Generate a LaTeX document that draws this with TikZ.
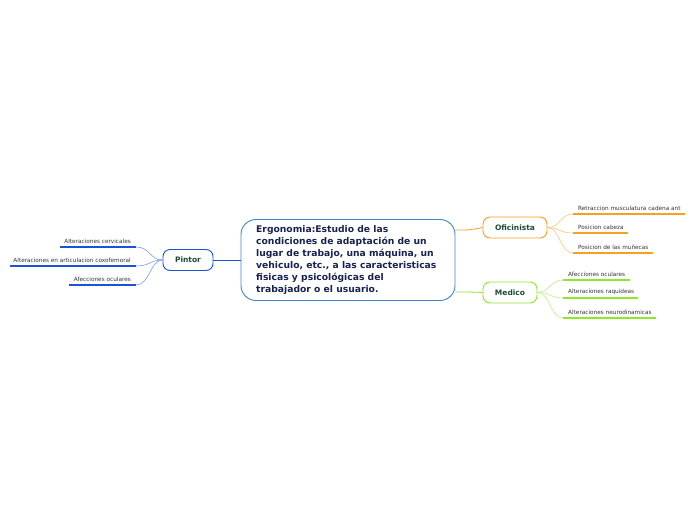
\documentclass[tikz,border=0pt]{standalone}
\usepackage{fontspec}
\setmainfont{DejaVu Sans}
\begin{document}
\begin{tikzpicture}[x=1pt,y=-1pt,
  every node/.style={font=\fontsize{5.75}{6.5}\selectfont},
  topic/.style={draw, rounded corners=7pt, line width=0.9pt, fill=white, minimum height=21pt, inner sep=0pt, text=textgreen, font=\fontsize{7.5}{8}\selectfont\bfseries},
  leaf/.style={inner xsep=5pt, inner ysep=3pt, text=leafgray, anchor=south west},
  leafr/.style={inner xsep=5pt, inner ysep=3pt, text=leafgray, anchor=south east},
  uline/.style={line width=1.5pt},
  conn/.style={line width=0.6pt}]
\definecolor{centralblue}{HTML}{3B87C8}
\definecolor{navy}{HTML}{17234F}
\definecolor{textgreen}{HTML}{1D4A3A}
\definecolor{leafgray}{HTML}{333333}
\definecolor{orangec}{HTML}{F9A01E}
\definecolor{greenc}{HTML}{8CE828}
\definecolor{bluec}{HTML}{1A53D6}
\definecolor{orangel}{HTML}{FCC677}
\definecolor{greenl}{HTML}{B8F083}
\definecolor{bluel}{HTML}{7A9EEA}
\useasboundingbox (0,0) rectangle (696,520);

% central
\node[draw=centralblue, line width=0.9pt, rounded corners=15pt, fill=white, minimum width=214pt, minimum height=81pt, inner sep=0pt] (c) at (348,260) {};
\node[anchor=north west, inner sep=0pt, text=navy, align=left, font=\fontsize{9.2}{12}\selectfont\bfseries] (ct) at (256,225.5) {Ergonomia:Estudio de las\\condiciones de adaptación de un\\lugar de trabajo, una máquina, un\\vehiculo, etc., a las caracteristicas\\fisicas y psicológicas del\\trabajador o el usuario.};

% topics
\node[topic, draw=orangec, minimum width=64pt] (of) at (515,227.5) {Oficinista};
\node[topic, draw=greenc, minimum width=54pt] (me) at (510,292.5) {Medico};
\node[topic, draw=bluec, minimum width=50pt] (pi) at (188,260) {Pintor};

\draw[orangec, line width=0.8pt] (c.east |- 0,230) .. controls (470,230) .. (of.west);
\draw[greenc, line width=0.8pt] (c.east |- 0,292) .. controls (470,292) .. (me.west);
\draw[bluec, line width=0.8pt] (c.west) -- (pi.east);

% Oficinista leaves
\node[leaf] (o1) at (573,214) {Retraccion musculatura cadena ant};
\node[leaf] (o2) at (573,233) {Posicion cabeza};
\node[leaf] (o3) at (573,253) {Posicion de las muñecas};
\foreach \n/\e in {o1/685,o2/628,o3/653}{
  \draw[orangec, uline] (\n.south west) -- (\e,0 |- \n.south west);
  \draw[orangel, conn] (of.east) .. controls (560,228) and (560, 0 |- \n.south west) .. (\n.south west);
}

% Medico leaves
\node[leaf] (m1) at (563,280) {Afecciones oculares};
\node[leaf] (m2) at (563,298) {Alteraciones raquideas};
\node[leaf] (m3) at (563,318) {Alteraciones neurodinamicas};
\foreach \n/\e in {m1/630,m2/638,m3/656}{
  \draw[greenc, uline] (\n.south west) -- (\e,0 |- \n.south west);
  \draw[greenl, conn] (me.east) .. controls (550,292) and (550, 0 |- \n.south west) .. (\n.south west);
}

% Pintor leaves
\node[leafr] (p1) at (136,247) {Alteraciones cervicales};
\node[leafr] (p2) at (136,266) {Alteraciones en articulacion coxofemoral};
\node[leafr] (p3) at (136,285) {Afecciones oculares};
\foreach \n/\s in {p1/60,p2/10,p3/69}{
  \draw[bluec, uline] (\s,0 |- \n.south east) -- (\n.south east);
  \draw[bluel, conn] (pi.west) .. controls (150,260) and (150, 0 |- \n.south east) .. (\n.south east);
}
\end{tikzpicture}
\end{document}
